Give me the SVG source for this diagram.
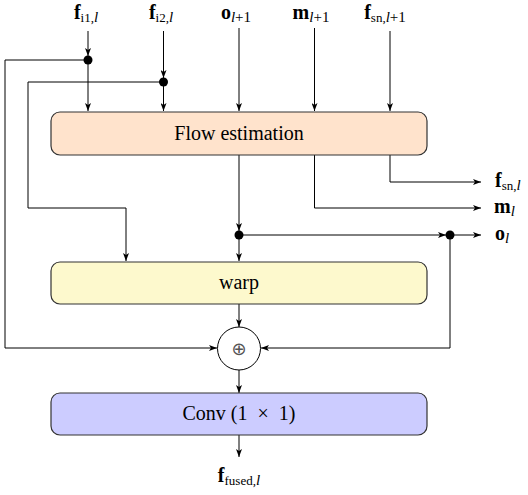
<svg xmlns="http://www.w3.org/2000/svg" width="528" height="495" viewBox="0 0 528 495">
<defs>
<marker id="ah" viewBox="0 0 8 6" refX="8" refY="3" markerWidth="8" markerHeight="6" markerUnits="userSpaceOnUse" orient="auto">
<path d="M0,0 L8,3 L0,6 L2,3 z" fill="#000"/>
</marker>
<style>
.box{stroke:#333;stroke-width:1.2}
.c{fill:none;stroke:#000;stroke-width:1}
.a{marker-end:url(#ah)}
.dot{fill:#000}
text{font-family:"Liberation Serif","Times New Roman",serif;fill:#000}
.bt{font-size:20px;text-anchor:middle}
.lb{font-size:20px}
.b{font-weight:bold}
.s{font-size:13px}
.s2{font-size:15px}
.i{font-style:italic}
</style>
</defs>
<rect width="528" height="495" fill="#fff"/>

<g id="connectors">
<path class="c a" d="M88,31 V56"/>
<path class="c a" d="M88,60 V111"/>
<path class="c a" d="M163.5,31 V78"/>
<path class="c a" d="M163.5,82 V111"/>
<path class="c a" d="M239,28 V111"/>
<path class="c a" d="M314.5,28 V111"/>
<path class="c a" d="M390,31 V111"/>
<path class="c a" d="M88,60 H5 V348 H217"/>
<path class="c a" d="M163.5,82 H28 V208 H126 V261"/>
<path class="c a" d="M239,155 V231"/>
<path class="c a" d="M239,235 V261"/>
<path class="c a" d="M239,235 H446"/>
<path class="c a" d="M450,235 H481"/>
<path class="c a" d="M450,235 V348 H261"/>
<path class="c a" d="M314.5,155 V208 H481"/>
<path class="c a" d="M390,155 V182 H481"/>
<path class="c a" d="M239,304 V327"/>
<path class="c a" d="M239,370 V393"/>
<path class="c a" d="M239,435 V457"/>
<circle class="dot" cx="88" cy="60" r="4.5"/>
<circle class="dot" cx="163.5" cy="82" r="4.5"/>
<circle class="dot" cx="239" cy="235" r="4.5"/>
<circle class="dot" cx="450" cy="235" r="4.5"/>
</g>

<g id="flow">
<rect class="box" x="51" y="112" width="376" height="43" rx="9" fill="#FFE3CC"/>
<text class="bt" x="239" y="140">Flow estimation</text>
</g>
<g id="warp">
<rect class="box" x="51" y="262" width="376" height="42" rx="9" fill="#FDF9CD"/>
<text class="bt" x="239" y="289">warp</text>
</g>
<g id="sum">
<circle cx="239" cy="348.5" r="21.5" fill="#fff" stroke="#000" stroke-width="1"/>
<text x="239" y="354.5" text-anchor="middle" style="font-family:'DejaVu Sans',sans-serif;font-size:18px;fill:#555">⊕</text>
</g>
<g id="conv">
<rect class="box" x="51" y="393" width="376" height="42" rx="9" fill="#CCCCFF"/>
<text class="bt" x="239" y="420">Conv (1 <tspan dx="5">×</tspan> <tspan dx="5">1)</tspan></text>
</g>

<g id="labels">
<text class="lb" x="86" y="19" text-anchor="middle"><tspan class="b">f</tspan><tspan class="s" dy="3">i1,</tspan><tspan class="s2 i">l</tspan></text>
<text class="lb" x="161" y="19" text-anchor="middle"><tspan class="b">f</tspan><tspan class="s" dy="3">i2,</tspan><tspan class="s2 i">l</tspan></text>
<text class="lb" x="236" y="19" text-anchor="middle"><tspan class="b">o</tspan><tspan class="s2 i" dy="3">l</tspan><tspan class="s2">+1</tspan></text>
<text class="lb" x="311" y="19" text-anchor="middle"><tspan class="b">m</tspan><tspan class="s2 i" dy="3">l</tspan><tspan class="s2">+1</tspan></text>
<text class="lb" x="385" y="19" text-anchor="middle"><tspan class="b">f</tspan><tspan class="s" dy="3">sn,</tspan><tspan class="s2 i">l</tspan><tspan class="s2">+1</tspan></text>
<text class="lb" x="495" y="187"><tspan class="b">f</tspan><tspan class="s" dy="3">sn,</tspan><tspan class="s2 i">l</tspan></text>
<text class="lb" x="494" y="213"><tspan class="b">m</tspan><tspan class="s2 i" dy="3">l</tspan></text>
<text class="lb" x="495" y="240"><tspan class="b">o</tspan><tspan class="s2 i" dy="3">l</tspan></text>
<text class="lb" x="239" y="482" text-anchor="middle"><tspan class="b">f</tspan><tspan class="s" dy="3">fused,</tspan><tspan class="s2 i">l</tspan></text>
</g>
</svg>
